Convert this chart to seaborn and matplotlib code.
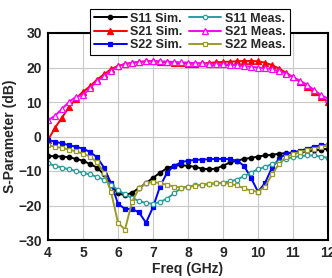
import numpy as np
import pandas as pd
import matplotlib
matplotlib.use("Agg")
import matplotlib.pyplot as plt
import seaborn as sns

freq = [4.0 + 0.2 * i for i in range(41)]

s11_sim = [-5.7, -5.7, -5.8, -6.0, -6.5, -7.0, -8.0, -9.0, -11.0, -14.0,
           -16.5, -17.0, -16.3, -15.0, -13.5, -12.0, -10.5, -9.2, -8.5, -8.3,
           -8.5, -8.8, -9.3, -9.5, -9.3, -8.5, -7.5, -7.0, -6.5, -6.2,
           -5.8, -5.5, -5.3, -5.0, -4.8, -4.7, -4.5, -4.3, -4.0, -3.8, -3.5]
s11_meas = [-7.8, -8.5, -9.0, -9.5, -10.0, -10.5, -11.0, -11.7, -12.5, -14.0,
            -15.5, -16.8, -17.8, -18.7, -19.3, -19.5, -19.0, -18.0, -16.5, -15.0,
            -14.5, -14.2, -14.0, -13.8, -13.6, -13.4, -13.0, -12.5, -11.5, -10.5,
            -9.5, -8.8, -8.0, -7.3, -6.5, -6.0, -5.7, -5.5, -5.5, -5.8, -6.2]
s21_sim = [-1.0, 2.5, 5.5, 8.5, 11.0, 13.0, 14.5, 16.5, 18.0, 19.5,
           20.5, 21.0, 21.3, 21.6, 21.8, 21.8, 21.6, 21.5, 21.3, 21.2,
           21.1, 21.1, 21.2, 21.3, 21.5, 21.6, 21.7, 21.8, 21.9, 21.9,
           21.8, 21.4, 20.7, 19.7, 18.5, 17.2, 15.8, 14.3, 12.8, 11.5, 10.0]
s21_meas = [4.7, 6.0, 8.0, 10.0, 11.5, 12.0, 14.0, 16.0, 17.5, 19.0,
            20.3, 21.0, 21.4, 21.6, 21.8, 21.9, 21.8, 21.7, 21.6, 21.5,
            21.4, 21.3, 21.2, 21.1, 21.0, 20.9, 20.8, 20.6, 20.4, 20.2,
            20.0, 19.8, 19.5, 19.0, 18.2, 17.2, 16.2, 15.0, 13.5, 12.0, 11.0]
s22_sim = [-1.0, -1.5, -2.0, -2.5, -3.0, -3.5, -4.5, -6.0, -9.0, -13.5,
           -19.5, -21.0, -21.0, -22.0, -25.0, -20.5, -14.5, -10.5, -8.5, -7.5,
           -7.0, -6.8, -6.7, -6.6, -6.5, -6.5, -6.6, -7.0, -8.5, -12.0,
           -16.0, -13.5, -9.0, -6.5, -5.0, -4.5, -4.2, -3.5, -3.0, -2.5, -2.5]
s22_meas = [-2.5, -3.0, -3.3, -3.8, -4.3, -5.0, -5.8, -7.5, -10.5, -16.0,
            -25.0, -27.0, -19.0, -15.0, -13.5, -13.2, -13.5, -14.0, -14.5, -14.8,
            -14.6, -14.3, -14.0, -13.7, -13.5, -13.5, -13.7, -14.2, -15.0, -15.7,
            -16.0, -14.5, -11.0, -8.0, -6.0, -5.0, -4.5, -4.0, -3.5, -3.0, -2.5]

series = [
    ("S11 Sim.", s11_sim, "#000000", "o", True),
    ("S21 Sim.", s21_sim, "#ff0000", "^", True),
    ("S22 Sim.", s22_sim, "#0000ff", "s", True),
    ("S11 Meas.", s11_meas, "#2a9d9d", "o", False),
    ("S21 Meas.", s21_meas, "#ff00ff", "^", False),
    ("S22 Meas.", s22_meas, "#9a9a2a", "s", False),
]

sns.set_style("whitegrid")
plt.rcParams['font.family'] = ['Liberation Sans', 'DejaVu Sans']

fig = plt.figure(figsize=(3.32, 2.78), dpi=100)
ax = fig.add_axes([48/332, 1-240/278, 280/332, 207/278])

for name, vals, col, mk, filled in series:
    df = pd.DataFrame({"f": freq, "v": vals})
    sns.lineplot(data=df, x="f", y="v", ax=ax, color=col, linewidth=1.4,
                 marker=mk, markersize=3.2 if mk != "^" else 3.8,
                 markerfacecolor=col if filled else "white",
                 markeredgecolor=col, markeredgewidth=0.9, label=name, legend=False)

ax.set_xlim(4, 12)
ax.set_ylim(-30, 30)
ax.set_xticks(range(4, 13))
ax.set_yticks(range(-30, 31, 10))
ax.grid(True, color="#c8c8c8", linewidth=0.8)
for s in ax.spines.values():
    s.set_color("black")
    s.set_linewidth(1.5)
ax.tick_params(axis="both", direction="out", length=3, width=1.2, color="black",
               labelsize=10, pad=1.5)
for lab in ax.get_xticklabels() + ax.get_yticklabels():
    lab.set_fontweight("bold")
ax.set_xlabel("Freq (GHz)", fontsize=10, fontweight="bold", labelpad=1)
ax.set_ylabel("S-Parameter (dB)", fontsize=10, fontweight="bold", labelpad=1)

h, l = ax.get_legend_handles_labels()
leg = fig.legend(h, l, ncol=2, loc="upper center", bbox_to_anchor=(190/332, 0.99),
                 frameon=True, fancybox=False, edgecolor="black", framealpha=1,
                 prop={"weight": "bold", "size": 9}, handlelength=2.6,
                 columnspacing=0.5, handletextpad=0.3, labelspacing=0.1,
                 borderpad=0.3)
leg.get_frame().set_linewidth(0.8)

fig.savefig("out.png", dpi=100)
